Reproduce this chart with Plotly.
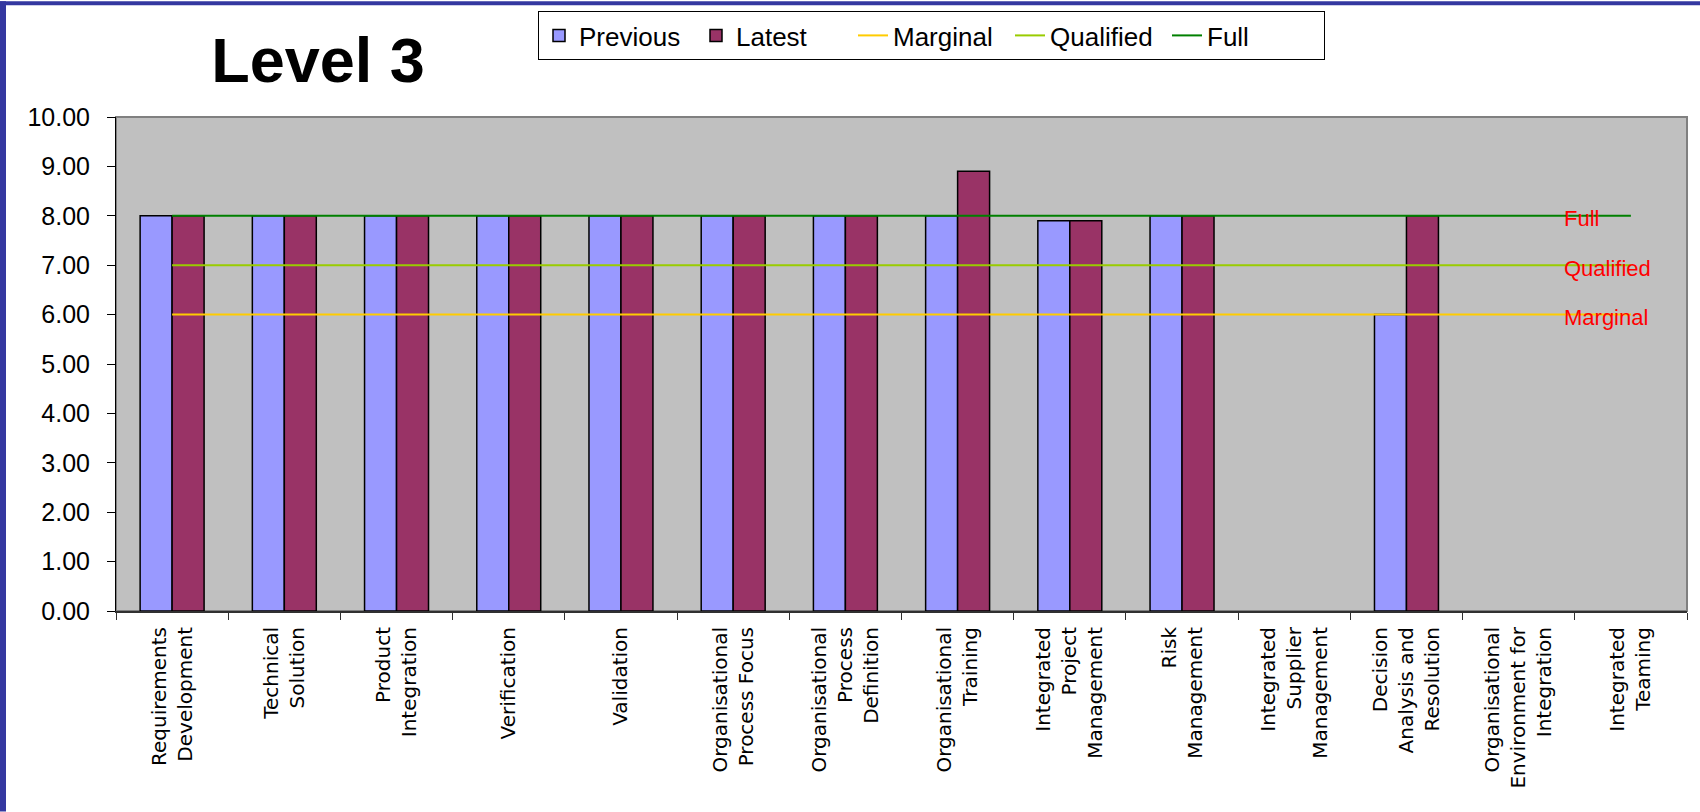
import plotly.graph_objects as go

categories = [
    "Requirements<br>Development",
    "Technical<br>Solution",
    "Product<br>Integration",
    "Verification",
    "Validation",
    "Organisational<br>Process Focus",
    "Organisational<br>Process<br>Definition",
    "Organisational<br>Training",
    "Integrated<br>Project<br>Management",
    "Risk<br>Management",
    "Integrated<br>Supplier<br>Management",
    "Decision<br>Analysis and<br>Resolution",
    "Organisational<br>Environment for<br>Integration",
    "Integrated<br>Teaming",
]
previous = [8.0, 8.0, 8.0, 8.0, 8.0, 8.0, 8.0, 8.0, 7.9, 8.0, None, 6.0, None, None]
latest = [8.0, 8.0, 8.0, 8.0, 8.0, 8.0, 8.0, 8.9, 7.9, 8.0, None, 8.0, None, None]
marginal = [6.0] * 14
qualified = [7.0] * 14
full = [8.0] * 14
y_ticks = [0, 1, 2, 3, 4, 5, 6, 7, 8, 9, 10]

SANS = "Liberation Sans, Arial, sans-serif"

fig = go.Figure()
fig.add_trace(go.Bar(name="Previous", x=categories, y=previous,
                     marker=dict(color="#9999FF", line=dict(color="#000000", width=1.5))))
fig.add_trace(go.Bar(name="Latest", x=categories, y=latest,
                     marker=dict(color="#993366", line=dict(color="#000000", width=1.5))))
fig.add_trace(go.Scatter(name="Marginal", x=categories, y=marginal, mode="lines",
                         line=dict(color="#FFCC00", width=2)))
fig.add_trace(go.Scatter(name="Qualified", x=categories, y=qualified, mode="lines",
                         line=dict(color="#99CC00", width=2)))
fig.add_trace(go.Scatter(name="Full", x=categories, y=full, mode="lines",
                         line=dict(color="#008000", width=2)))

for name, vals in [("Full", full), ("Qualified", qualified), ("Marginal", marginal)]:
    fig.add_annotation(x=categories[-1], y=vals[-1], xref="x", yref="y", text=name,
                       showarrow=False, xanchor="left", yanchor="middle",
                       xshift=-69, yshift=-3,
                       font=dict(family=SANS, size=22, color="#FF0000"))

shapes = [
    dict(type="rect", xref="paper", yref="paper", x0=0, x1=1, y0=0, y1=1,
         line=dict(color="#808080", width=2), fillcolor="rgba(0,0,0,0)", layer="below"),
    dict(type="rect", xref="paper", yref="paper", x0=-116/1571, x1=1 + 13/1571,
         y0=1 + 112/495, y1=1 + 116/495, line=dict(width=0), fillcolor="#3438A0", layer="above"),
    dict(type="rect", xref="paper", yref="paper", x0=-116/1571, x1=-110/1571,
         y0=-201/495, y1=1 + 116/495, line=dict(width=0), fillcolor="#3438A0", layer="above"),
]

fig.update_layout(
    width=1700, height=812,
    margin=dict(l=116, r=13, t=116, b=201, pad=0),
    paper_bgcolor="#FFFFFF",
    plot_bgcolor="#C0C0C0",
    barmode="group", bargap=0.43, bargroupgap=0,
    showlegend=True,
    title=dict(text="<b>Level 3</b>", x=318/1700, xanchor="center", xref="container",
               y=1 - 60/812, yanchor="middle", yref="container",
               font=dict(family=SANS, size=63, color="#000000")),
    legend=dict(orientation="h", x=(538-116)/1571, xanchor="left",
                y=1 + (116-11)/495, yanchor="top",
                bgcolor="#FFFFFF", bordercolor="#000000", borderwidth=1,
                font=dict(family=SANS, size=26, color="#000000"),
                traceorder="normal", itemwidth=30,
                entrywidth=112, entrywidthmode="pixels"),
    xaxis=dict(type="category", categoryorder="array", categoryarray=categories,
               showgrid=False, zeroline=False, showline=True, linecolor="#303030", linewidth=2,
               ticks="outside", tickson="boundaries", ticklen=7, tickcolor="#303030",
               tickangle=-90, ticklabelstandoff=6,
               tickfont=dict(family="DejaVu Sans, sans-serif", size=20, color="#000000")),
    yaxis=dict(range=[0, 10], tickvals=y_ticks, tickformat=".2f",
               showgrid=False, zeroline=False, showline=True, linecolor="#000000", linewidth=1,
               ticks="outside", ticklen=8, tickcolor="#000000", ticklabelstandoff=12,
               tickfont=dict(family=SANS, size=25, color="#000000")),
    shapes=shapes,
)

fig.write_html("out.html")
